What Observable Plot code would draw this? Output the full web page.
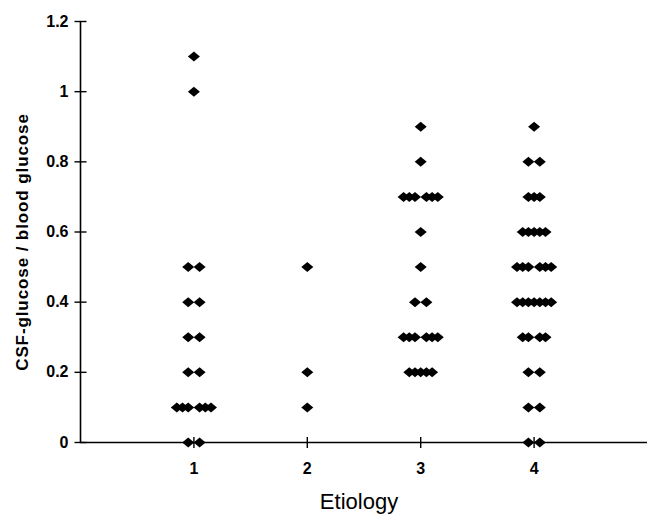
<!DOCTYPE html>
<html>
<head>
<meta charset="utf-8">
<script src="https://cdn.jsdelivr.net/npm/d3@7"></script>
<script src="https://cdn.jsdelivr.net/npm/@observablehq/plot@0.6"></script>
<style>
  html, body { margin: 0; padding: 0; background: #fff; }
  svg { display: block; }
</style>
</head>
<body>
<div id="chart"></div>
<script>
// CSF-glucose / blood glucose ratio by etiology group
const etiologies = [1, 2, 3, 4];
const etiology1 = [1.1, 1.0, 0.5, 0.5, 0.4, 0.4, 0.3, 0.3, 0.2, 0.2, 0.1, 0.1, 0.1, 0.1, 0.1, 0.1, 0, 0];
const etiology2 = [0.5, 0.2, 0.1];
const etiology3 = [0.9, 0.8, 0.7, 0.7, 0.7, 0.7, 0.7, 0.7, 0.6, 0.5, 0.4, 0.4, 0.3, 0.3, 0.3, 0.3, 0.3, 0.3, 0.2, 0.2, 0.2, 0.2, 0.2];
const etiology4 = [0.9, 0.8, 0.8, 0.7, 0.7, 0.7, 0.6, 0.6, 0.6, 0.6, 0.6, 0.5, 0.5, 0.5, 0.5, 0.5, 0.5, 0.4, 0.4, 0.4, 0.4, 0.4, 0.4, 0.4, 0.3, 0.3, 0.3, 0.3, 0.2, 0.2, 0.1, 0.1, 0, 0];
const yTicks = [0, 0.2, 0.4, 0.6, 0.8, 1.0, 1.2];
const xTickLabels = ["1", "2", "3", "4"];
const yLabel = "CSF-glucose / blood glucose";
const xLabel = "Etiology";

// Build the point table: stack equal values side by side (dot-plot layout)
const groups = [etiology1, etiology2, etiology3, etiology4];
const step = 5.7 / 113.4; // horizontal spacing between stacked diamonds, in x units
const points = [];
groups.forEach((vals, gi) => {
  const rows = d3.group(vals, v => v);
  for (const [v, arr] of rows) {
    const n = arr.length;
    arr.forEach((_, i) => {
      let k;
      if (n % 2 === 1) k = i - (n - 1) / 2;
      else { const j = Math.floor(i / 2) + 1; k = (i % 2 === 0 ? -1 : 1) * j; }
      points.push({etiology: etiologies[gi], x: etiologies[gi] + k * step, ratio: v});
    });
  }
});

const diamond = {
  draw(ctx) {
    ctx.moveTo(0, -5);
    ctx.lineTo(6, 0);
    ctx.lineTo(0, 5);
    ctx.lineTo(-6, 0);
    ctx.closePath();
  }
};
const hTick = { draw(ctx) { ctx.moveTo(-6, 0); ctx.lineTo(6, 0); } };
const vTick = { draw(ctx) { ctx.moveTo(0, -5.5); ctx.lineTo(0, 5.5); } };

const chart = Plot.plot({
  width: 647,
  height: 514,
  marginLeft: 80,
  marginRight: 0,
  marginTop: 21,
  marginBottom: 72,
  x: {domain: [0, 5], range: [80, 647], axis: null},
  y: {domain: [0, 1.2], range: [442, 21], axis: null},
  style: {fontFamily: "'Liberation Sans', Arial, sans-serif", color: "black", background: "white", overflow: "visible"},
  marks: [
    Plot.ruleY([0], {x1: 0, x2: 5, stroke: "black", strokeWidth: 1.6}),
    Plot.ruleX([0], {y1: 0, y2: 1.2, stroke: "black", strokeWidth: 1.6}),
    Plot.dot(yTicks, {x: 0, y: d => d, symbol: hTick, stroke: "black", fill: "none", strokeWidth: 1.4}),
    Plot.dot(etiologies, {x: d => d, y: 0, symbol: vTick, stroke: "black", fill: "none", strokeWidth: 1.4}),
    Plot.text(yTicks, {x: 0, y: d => d, text: d => String(+d.toFixed(1)), textAnchor: "end", dx: -12, fontSize: 16, fontWeight: "bold"}),
    Plot.text(etiologies, {x: d => d, y: 0, text: (d, i) => xTickLabels[i], dy: 26, fontSize: 16, fontWeight: "bold"}),
    Plot.text([xLabel], {frameAnchor: "bottom", textAnchor: "middle", lineAnchor: "middle", dx: -5, dy: 59, fontSize: 22}),
    Plot.text([yLabel], {frameAnchor: "left", textAnchor: "middle", lineAnchor: "middle", rotate: -90, dx: -58, dy: 10, fontSize: 17, fontWeight: "bold"}),
    Plot.dot(points, {x: "x", y: "ratio", symbol: diamond, fill: "black", stroke: "none"})
  ]
});
d3.select(chart).selectAll("text").filter(function() { return this.textContent === yLabel; }).attr("letter-spacing", "0.9px");
document.getElementById("chart").append(chart);
</script>
</body>
</html>
